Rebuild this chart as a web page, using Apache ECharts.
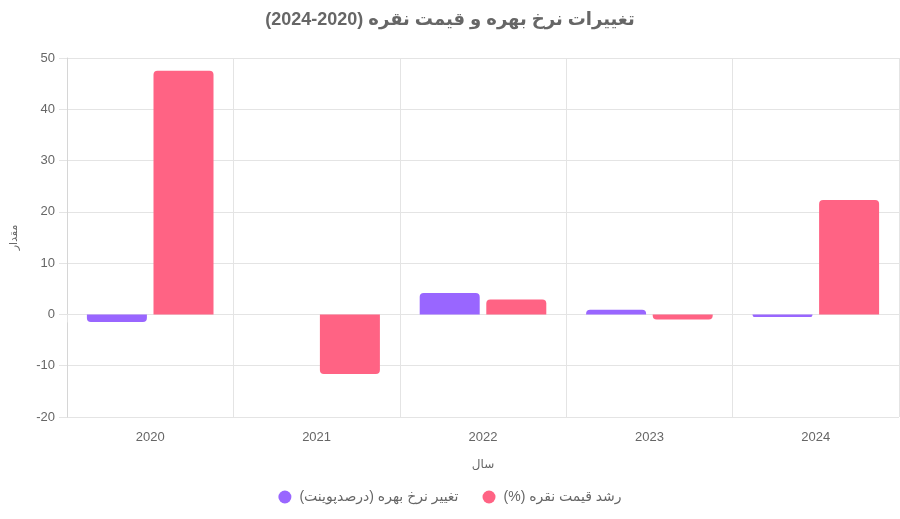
<!DOCTYPE html>
<html>
<head>
<meta charset="utf-8">
<script src="https://cdn.jsdelivr.net/npm/echarts@6/dist/echarts.min.js"></script>
<style>
  html, body { margin: 0; padding: 0; background: #fff; }
  #chart { width: 900px; height: 519px; }
</style>
</head>
<body>
<div id="chart"></div>
<script>
// داده ها
var years = ['2020', '2021', '2022', '2023', '2024'];
var rateChange = [-1.5, 0, 4.2, 0.9, -0.5];      // تغییر نرخ بهره (درصدپوینت)
var silverGrowth = [47.5, -11.6, 2.9, -1.0, 22.3]; // رشد قیمت نقره (%)
var yTicks = [-20, -10, 0, 10, 20, 30, 40, 50];

var titleMain = 'تغییرات نرخ بهره و قیمت نقره';
var titleRange = '2024-2020';
var seriesNames = ['تغییر نرخ بهره (درصدپوینت)', 'رشد قیمت نقره (%)'];
var colors = ['#9966FF', '#FF6384'];

// متن راست به چپ داخل بوم چپ به راست
function rtl(s) {
  return '\u202B' + s + '\u202C';
}
function ltr(s) {
  return '\u202A' + s + '\u202C';
}

// گوشه گرد فقط در انتهای میله
function barData(arr) {
  return arr.map(function (v) {
    return {
      value: v,
      itemStyle: { borderRadius: v >= 0 ? [4, 4, 0, 0] : [0, 0, 4, 4] }
    };
  });
}

var gridColor = '#e4e4e4';
var textColor = '#666';
var font = "'Liberation Sans', Arial, 'DejaVu Sans', sans-serif";

var chart = echarts.init(document.getElementById('chart'));
chart.setOption({
  animation: false,
  textStyle: { fontFamily: font },
  title: {
    text: rtl(titleMain + ' (' + ltr(titleRange) + ')'),
    left: 'center',
    top: 6,
    textStyle: { color: textColor, fontSize: 18, fontWeight: 'bold', fontFamily: font }
  },
  legend: {
    bottom: 10,
    left: 'center',
    icon: 'circle',
    itemWidth: 13,
    itemHeight: 13,
    itemGap: 24,
    textStyle: { color: textColor, fontSize: 14, fontFamily: font, padding: [0, 0, 0, 3] },
    data: [rtl(seriesNames[0]), rtl(seriesNames[1])]
  },
  grid: {
    left: 64,
    right: 1,
    top: 58,
    bottom: 102
  },
  xAxis: {
    type: 'category',
    data: years,
    name: 'سال',
    nameLocation: 'middle',
    nameGap: 42,
    nameTextStyle: { color: textColor, fontSize: 12 },
    axisLine: { show: true, lineStyle: { color: gridColor } },
    axisTick: { show: true, length: 8, lineStyle: { color: gridColor } },
    axisLabel: { color: textColor, fontSize: 13, margin: 14 },
    splitLine: { show: true, lineStyle: { color: gridColor } }
  },
  yAxis: {
    type: 'value',
    min: yTicks[0],
    max: yTicks[yTicks.length - 1],
    interval: 10,
    name: 'مقدار',
    nameLocation: 'middle',
    nameGap: 48,
    nameRotate: 90,
    nameTextStyle: { color: textColor, fontSize: 11 },
    axisLine: { show: true, lineStyle: { color: '#d6d6d6' } },
    axisTick: { show: true, length: 8, lineStyle: { color: gridColor } },
    axisLabel: { color: textColor, fontSize: 13, margin: 12 },
    splitLine: { show: true, lineStyle: { color: gridColor } }
  },
  series: [
    {
      name: rtl(seriesNames[0]),
      type: 'bar',
      data: barData(rateChange),
      barWidth: 60,
      barGap: '11%',
      itemStyle: { color: colors[0] }
    },
    {
      name: rtl(seriesNames[1]),
      type: 'bar',
      data: barData(silverGrowth),
      barWidth: 60,
      barGap: '11%',
      itemStyle: { color: colors[1] }
    }
  ]
});
</script>
</body>
</html>
